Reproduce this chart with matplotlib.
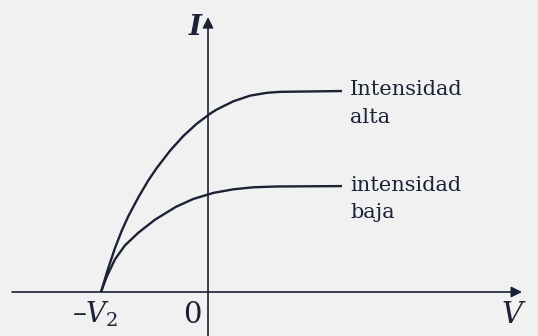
import numpy as np
import matplotlib.pyplot as plt

plt.rcParams['mathtext.fontset'] = 'dejavuserif'

# photocurrent vs voltage, V in units of the stopping potential V2,
# I in units of the high-intensity saturation current
v_alta = [-1.0, -0.932, -0.869, -0.807, -0.745, -0.651, -0.558, -0.479, -0.355,
          -0.231, -0.106, 0.019, 0.081, 0.237, 0.393, 0.549, 0.673, 1.252]
i_alta = [0.0, 0.119, 0.219, 0.304, 0.377, 0.471, 0.555, 0.617, 0.703,
          0.776, 0.837, 0.887, 0.908, 0.949, 0.977, 0.991, 0.996, 1.0]

v_baja = [-1.0, -0.947, -0.869, -0.776, -0.651, -0.495, -0.299, -0.137,
          0.050, 0.237, 0.423, 0.642, 1.252]
i_baja = [0.0, 0.076, 0.163, 0.232, 0.295, 0.360, 0.424, 0.463,
          0.493, 0.511, 0.521, 0.525, 0.527]

etiquetas = [("Intensidad", "alta"), ("intensidad", "baja")]

ink = '#1b2236'
bg = '#f1f1f1'

fig = plt.figure(figsize=(5.38, 3.36), dpi=100, facecolor=bg)
ax = fig.add_axes([0, 0, 1, 1])
ax.set_facecolor(bg)
ax.set_xlim(-1.944, 3.084)
ax.set_ylim(-0.219, 1.453)
ax.axis('off')

# axes with arrow heads
ax.annotate('', xy=(2.935, 0), xytext=(-1.832, 0),
            arrowprops=dict(arrowstyle='-|>', color=ink, lw=1.2,
                            mutation_scale=16, shrinkA=0, shrinkB=0))
ax.annotate('', xy=(0, 1.368), xytext=(0, -0.25),
            arrowprops=dict(arrowstyle='-|>', color=ink, lw=1.2,
                            mutation_scale=16, shrinkA=0, shrinkB=0))

ax.plot(v_alta, i_alta, color=ink, lw=1.7, solid_capstyle='butt',
        solid_joinstyle='round')
ax.plot(v_baja, i_baja, color=ink, lw=1.7, solid_capstyle='butt',
        solid_joinstyle='round')

# curve labels next to the plateau ends
for v, i, (l1, l2) in [(v_alta[-1], i_alta[-1], etiquetas[0]),
                       (v_baja[-1], i_baja[-1], etiquetas[1])]:
    ax.text(v + 0.075, i - 0.022, l1, color=ink, family='DejaVu Serif',
            fontsize=15, ha='left', va='baseline')
    ax.text(v + 0.075, i - 0.161, l2, color=ink, family='DejaVu Serif',
            fontsize=15, ha='left', va='baseline')

ax.text(-0.06, 1.279, 'I', color=ink, family='DejaVu Serif', fontsize=20,
        fontstyle='italic', fontweight='semibold', ha='right', va='baseline')
ax.text(2.84, -0.154, 'V', color=ink, family='DejaVu Serif', fontsize=21,
        fontstyle='italic', ha='center', va='baseline')
ax.text(-1.27, -0.154, r'$\mathrm{–}V_2$', color=ink, fontsize=20,
        ha='left', va='baseline')
ax.text(-0.15, -0.154, '0', color=ink, family='DejaVu Serif', fontsize=21,
        ha='center', va='baseline')

fig.savefig('out.png', dpi=100, facecolor=bg)
